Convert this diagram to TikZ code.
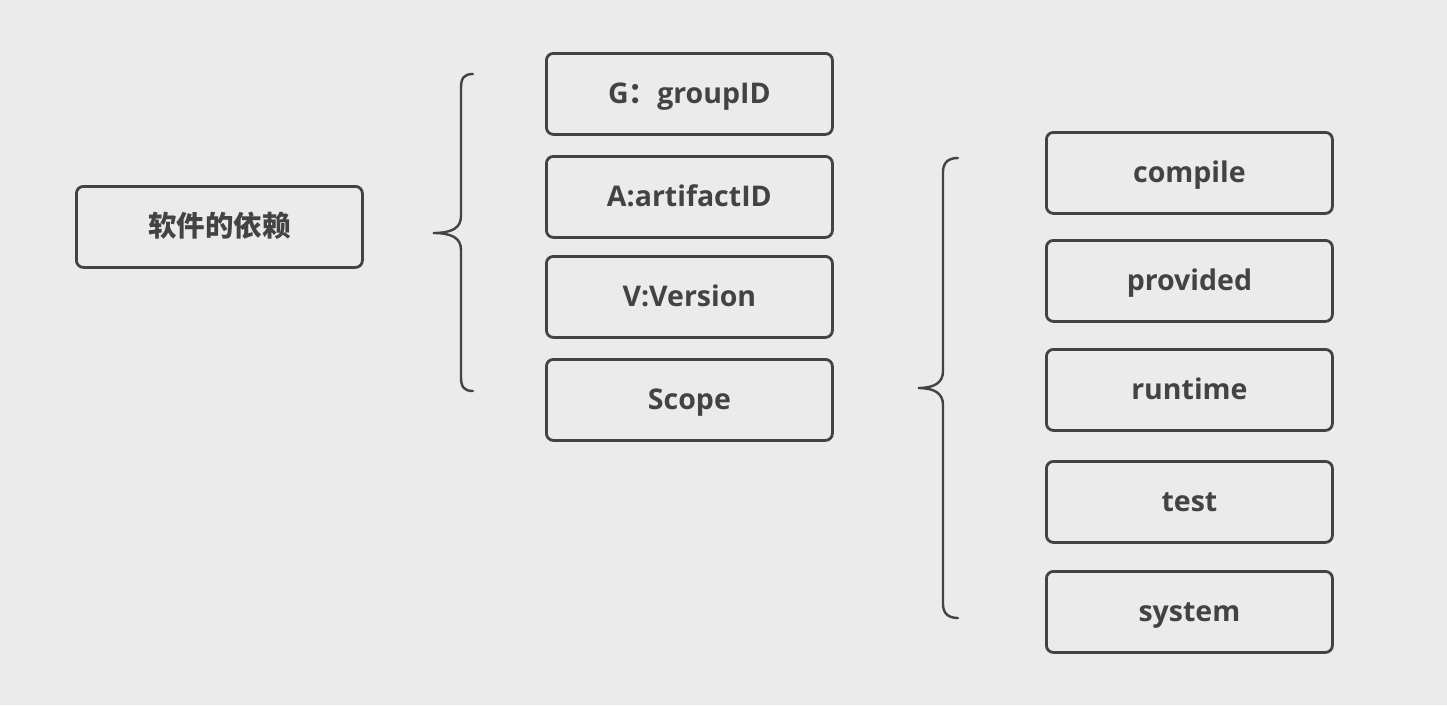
\documentclass[tikz,border=0pt]{standalone}
\usepackage{fontspec}
\setmainfont{Open Sans}
\newfontfamily\cjkfont{Noto Sans CJK SC}
\begin{document}
\begin{tikzpicture}[x=1pt,y=-1pt,
  boxstyle/.style={draw=ink, line width=2.8pt, rounded corners=7pt,
    minimum width=286pt, minimum height=81pt, inner sep=0pt,
    text height=26pt, text depth=6pt,
    anchor=north west, font=\fontsize{28.5}{32}\selectfont\bfseries, text=ink},
  bracestyle/.style={draw=ink, line width=2.4pt, line cap=round}]
\definecolor{ink}{HTML}{434343}
\definecolor{bg}{HTML}{EBEBEB}
\fill[bg] (0,0) rectangle (1447,705);
\useasboundingbox (0,0) rectangle (1447,705);

% root node
\node[boxstyle, font=\fontsize{28.5}{32}\cjkfont\bfseries] (root) at (75,185) {软件的依赖};

% coordinate fields
\node[boxstyle] (g) at (545,52) {G{\cjkfont\bfseries ：}groupID};
\node[boxstyle] (a) at (545,155) {A:artifactID};
\node[boxstyle] (v) at (545,255) {V:Version};
\node[boxstyle] (s) at (545,358) {Scope};

% scope values
\node[boxstyle] (compile) at (1045,131) {compile};
\node[boxstyle] (provided) at (1045,239) {provided};
\node[boxstyle] (runtime) at (1045,348) {runtime};
\node[boxstyle] (test) at (1045,460) {test};
\node[boxstyle] (system) at (1045,570) {system};

% left brace
\coordinate (b1top) at (473,74);
\coordinate (b1tip) at (433,233);
\coordinate (b1bot) at (473,391);
\draw[bracestyle] (b1top) .. controls (464,74) and (461,78) .. (461,88)
  -- (461,216) .. controls (461,228) and (452,233) .. (b1tip)
  .. controls (452,233) and (461,238) .. (461,250)
  -- (461,377) .. controls (461,387) and (464,391) .. (b1bot);

% right brace
\coordinate (b2top) at (958,158);
\coordinate (b2tip) at (918,388);
\coordinate (b2bot) at (958,618);
\draw[bracestyle] (b2top) .. controls (949,158) and (943,162) .. (943,172)
  -- (943,371) .. controls (943,383) and (934,388) .. (b2tip)
  .. controls (934,388) and (943,393) .. (943,405)
  -- (943,604) .. controls (943,614) and (949,618) .. (b2bot);
\end{tikzpicture}
\end{document}
